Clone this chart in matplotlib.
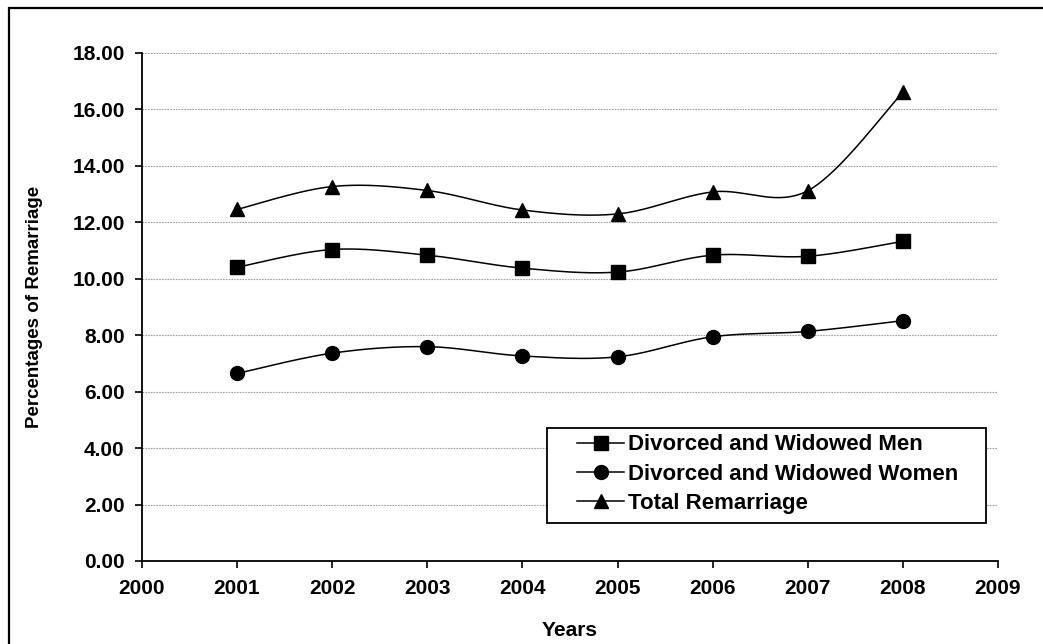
import matplotlib
matplotlib.use('Agg')
import matplotlib.pyplot as plt
import numpy as np
from matplotlib.patches import Rectangle
from matplotlib.ticker import FormatStrFormatter

plt.rcParams['font.family'] = ['Liberation Sans', 'DejaVu Sans']
plt.rcParams['font.weight'] = 'bold'

# Remarriage rates (%) by year
years = [2001, 2002, 2003, 2004, 2005, 2006, 2007, 2008]
men = [10.40, 11.03, 10.83, 10.37, 10.23, 10.83, 10.79, 11.32]
women = [6.64, 7.36, 7.59, 7.26, 7.23, 7.94, 8.13, 8.51]
total = [12.45, 13.26, 13.12, 12.43, 12.29, 13.07, 13.11, 16.60]

series_names = ['Divorced and Widowed Men', 'Divorced and Widowed Women',
                'Total Remarriage']
markers = ['s', 'o', '^']
marker_sizes = [9.5, 10, 10.5]


def smooth_curve(x, y, steps=40):
    """Bezier smoothing through every point (spreadsheet-style smoothed line)."""
    pts = np.column_stack([np.asarray(x, float), np.asarray(y, float)])
    n = len(pts)
    out = []
    for i in range(n - 1):
        p0, p3 = pts[i], pts[i + 1]
        prev = pts[i - 1] if i > 0 else pts[i]
        nxt = pts[i + 2] if i + 2 < n else pts[i + 1]
        p1 = p0 + (p3 - prev) / 6.0
        p2 = p3 - (nxt - p0) / 6.0
        t = np.linspace(0, 1, steps)[:, None]
        seg = ((1 - t) ** 3 * p0 + 3 * (1 - t) ** 2 * t * p1
               + 3 * (1 - t) * t ** 2 * p2 + t ** 3 * p3)
        out.append(seg if i == 0 else seg[1:])
    seg = np.vstack(out)
    return seg[:, 0], seg[:, 1]


fig = plt.figure(figsize=(10.43, 6.44), dpi=100)
fig.patch.set_facecolor('white')
ax = fig.add_axes([0.1361, 0.1289, 0.8207, 0.7893])

handles = []
for vals, name, mk, ms in zip([men, women, total], series_names, markers, marker_sizes):
    sx, sy = smooth_curve(years, vals)
    ax.plot(sx, sy, color='black', linewidth=1.1, zorder=3)
    ax.plot(years, vals, linestyle='none', marker=mk, markersize=ms,
            color='black', zorder=4)
    h, = ax.plot([], [], color='black', linewidth=1.1, marker=mk,
                 markersize=ms, label=name)
    handles.append(h)

ax.set_xlim(2000, 2009)
ax.set_ylim(0, 18)
ax.set_xticks(range(2000, 2010))
ax.set_yticks(np.arange(0, 18.1, 2))
ax.yaxis.set_major_formatter(FormatStrFormatter('%.2f'))
ax.tick_params(axis='both', direction='out', length=5, width=1.2, labelsize=15)
ax.tick_params(axis='x', pad=8)
ax.tick_params(axis='y', pad=7.5)
for lbl in ax.get_xticklabels() + ax.get_yticklabels():
    lbl.set_fontweight('bold')

ax.grid(True, axis='y', color='#a0a0a0', linestyle=(0, (1.5, 1)), linewidth=0.8)
ax.set_axisbelow(True)
for side in ['top', 'right']:
    ax.spines[side].set_visible(False)
for side in ['left', 'bottom']:
    ax.spines[side].set_linewidth(1.3)

ax.set_xlabel('Years', fontsize=15, fontweight='bold')
ax.xaxis.set_label_coords(0.5, -0.118)
ax.set_ylabel('Percentages of Remarriage', fontsize=13.5, fontweight='bold')
ax.yaxis.set_label_coords(-0.1157, 0.5)

# Legend box with a wide left margin
box = Rectangle((0.4728, 0.0738), 0.5128, 0.1874, transform=ax.transAxes,
                facecolor='white', edgecolor='black', linewidth=1.3, zorder=5)
ax.add_patch(box)
leg = ax.legend(handles=handles, loc='upper left', bbox_to_anchor=(0.5078, 0.249),
                frameon=False, handlelength=2.15, handletextpad=0.15,
                labelspacing=0.37, borderpad=0, borderaxespad=0,
                prop={'weight': 'bold', 'size': 16})
leg.set_zorder(6)

# Outer chart border
fig.patches.append(Rectangle((9 / 1043, -0.05), 1.1, 1 - 8 / 644 + 0.05,
                             transform=fig.transFigure, fill=False,
                             edgecolor='black', linewidth=1.6, zorder=10))

fig.savefig('out.png', dpi=100, facecolor='white')
